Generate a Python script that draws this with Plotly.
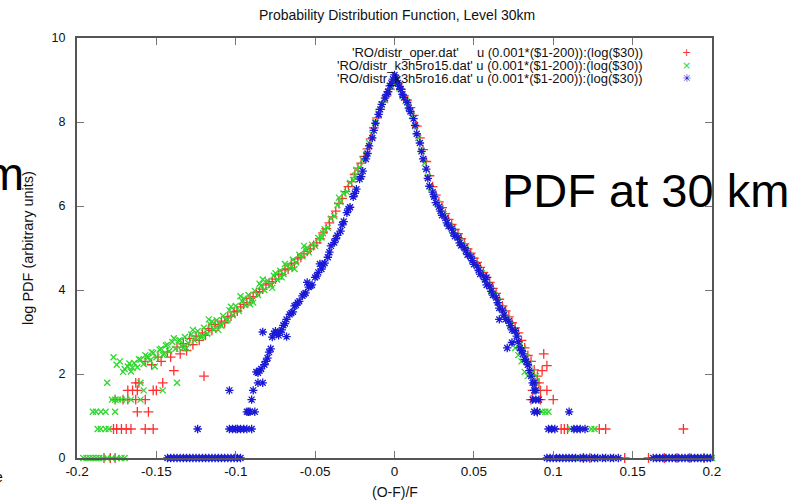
import plotly.graph_objects as go

# ---------------- data (x in units of 0.001 of (O-F)/F, y = log PDF) ----------------
RED_BAND_L_X = [-1, -3, -5, -7, -9, -11, -13, -15, -17, -19,
                -21, -23, -25, -27, -29, -31, -33, -35, -37, -39,
                -41, -43, -45, -47, -49, -51, -53, -55, -57, -59,
                -61, -63, -65, -67, -69, -71, -73, -75, -77, -79,
                -81, -83, -85, -87, -89, -91, -93, -95, -97, -99,
                -101, -103, -105, -107, -109, -111, -113, -115, -117, -119,
                -121, -123, -125, -127, -129, -131, -133, -135, -137, -141,
                -143, -147, -149, -153, -157]
RED_BAND_L_Y = [8.90, 8.78, 8.62, 8.48, 8.30, 8.10, 7.86, 7.60, 7.36, 7.18,
                7.02, 6.90, 6.75, 6.58, 6.46, 6.34, 6.18, 6.06, 5.88, 5.74,
                5.60, 5.46, 5.36, 5.22, 5.12, 5.06, 4.98, 4.92, 4.86, 4.78,
                4.74, 4.64, 4.62, 4.50, 4.48, 4.36, 4.38, 4.26, 4.20, 4.16,
                4.12, 4.02, 3.96, 3.94, 3.84, 3.80, 3.70, 3.66, 3.60, 3.50,
                3.48, 3.38, 3.36, 3.22, 3.26, 3.14, 3.18, 3.04, 3.08, 2.92,
                2.98, 2.80, 2.90, 2.70, 2.84, 2.56, 2.72, 2.48, 2.64, 2.40,
                2.52, 2.30, 2.40, 2.22, 2.30]
RED_BAND_R_X = [0, 2, 4, 6, 8, 10, 12, 14, 16, 18,
                20, 22, 24, 26, 28, 30, 32, 34, 36, 38,
                40, 42, 44, 46, 48, 50, 52, 54, 56, 58,
                60, 62, 64, 66, 68, 70, 72, 74, 76, 78,
                80, 82, 84, 86, 88, 90]
RED_BAND_R_Y = [8.98, 8.90, 8.78, 8.62, 8.52, 8.34, 8.16, 7.90, 7.62, 7.34,
                7.06, 6.72, 6.46, 6.26, 6.10, 5.96, 5.82, 5.68, 5.56, 5.44,
                5.34, 5.22, 5.10, 4.98, 4.88, 4.76, 4.66, 4.54, 4.42, 4.30,
                4.18, 4.04, 3.92, 3.78, 3.62, 3.50, 3.36, 3.22, 3.10, 2.98,
                2.80, 2.62, 2.44, 2.30, 2.10, 1.95]
RED_TAIL_X = [-183, -179, -176, -177, -175, -172, -169, -166, -157, -152,
              -176, -171, -168, -163, -157, -162, -155, -168, -165, -162,
              -152, -150, -146, -163, -161, -139, -120,
              86, 92, 87, 92, 89, 91, 90, 94, 96, 93, 96, 100,
              105, 107, 109, 129, 133, 182,
              119, 123, 145, 160, 170, 178, 186, 195]
RED_TAIL_Y = [0, 0, 0, 0.69, 0.69, 0.69, 0.69, 0.69, 0.69, 0.69,
              1.39, 1.39, 1.39, 1.39, 1.39, 1.10, 1.10, 1.61, 1.61, 1.61,
              1.61, 1.61, 1.79, 1.79, 1.79, 2.08, 1.95,
              1.39, 1.39, 1.61, 1.61, 1.79, 1.79, 1.10, 2.48, 2.20, 2.08, 1.61, 1.39,
              0.69, 0.69, 0.69, 0.69, 0.69, 0.69,
              0, 0, 0, 0, 0, 0, 0, 0]

GREEN_BAND_L_X = [0, -2, -4, -6, -8, -10, -12, -14, -16, -18,
                  -20, -22, -24, -26, -28, -30, -32, -34, -36, -38,
                  -40, -42, -44, -46, -48, -50, -52, -54, -56, -58,
                  -60, -62, -64, -66, -68, -70, -72, -74, -76, -78,
                  -80, -82, -84, -86, -88, -90, -92, -94, -96, -98,
                  -100, -102, -104, -106, -108, -110, -112, -114, -116, -118,
                  -120, -122, -124, -126, -128, -130, -132, -134, -136, -138,
                  -140, -142, -144, -146, -148, -150, -152, -154, -156, -158,
                  -160, -162, -164, -166, -168, -170, -173, -175]
GREEN_BAND_L_Y = [8.92, 8.83, 8.72, 8.52, 8.42, 8.20, 8.00, 7.70, 7.50, 7.22,
                  7.10, 6.92, 6.86, 6.62, 6.55, 6.33, 6.30, 6.10, 6.02, 5.76,
                  5.70, 5.48, 5.45, 5.25, 5.24, 5.05, 5.08, 4.90, 4.96, 4.80,
                  4.84, 4.66, 4.72, 4.52, 4.58, 4.38, 4.46, 4.25, 4.34, 4.12,
                  4.22, 4.00, 4.10, 3.88, 3.98, 3.76, 3.88, 3.64, 3.74, 3.50,
                  3.62, 3.40, 3.52, 3.28, 3.38, 3.18, 3.28, 3.06, 3.18, 2.96,
                  3.10, 2.88, 3.02, 2.80, 2.94, 2.74, 2.88, 2.66, 2.80, 2.60,
                  2.76, 2.54, 2.68, 2.46, 2.58, 2.40, 2.50, 2.32, 2.42, 2.24,
                  2.34, 2.16, 2.26, 2.06, 2.18, 2.12, 2.30, 2.22]
GREEN_EXTRA_X = [-25, -35, -45, -55, -65, -75, -85, -95, -105, -115,
                 -125, -135, -145, -155, -165, -131, -111, -91, -71, -151,
                 -57, -63, -69, -77, -83, -89, -97, -103, -109, -117,
                 -121, -127, -133, -139, -143, -147, -153, -157, -161, -167,
                 -171, -177]
GREEN_EXTRA_Y = [6.72, 6.20, 5.35, 5.00, 4.55, 4.40, 4.15, 3.80, 3.30, 3.25,
                 2.85, 2.80, 2.48, 2.40, 2.15, 2.62, 3.05, 3.66, 4.30, 2.18,
                 5.05, 4.50, 4.62, 4.05, 4.25, 3.70, 3.85, 3.60, 3.15, 3.30,
                 2.90, 3.05, 2.62, 2.85, 2.70, 2.60, 2.52, 2.45, 2.35, 2.25,
                 2.05, 2.40]
GREEN_BAND_R_X = [1, 3, 5, 7, 9, 11, 13, 15, 17, 19,
                  21, 23, 25, 27, 29, 31, 33, 35, 37, 39,
                  41, 43, 45, 47, 49, 51, 53, 55, 57, 59,
                  61, 63, 65, 67, 69, 71, 73, 75, 77, 79,
                  81, 83, 85, 87, 89]
GREEN_BAND_R_Y = [8.98, 8.80, 8.62, 8.50, 8.36, 8.15, 7.90, 7.62, 7.32, 7.02,
                  6.70, 6.44, 6.24, 6.06, 5.94, 5.80, 5.62, 5.52, 5.40, 5.30,
                  5.18, 5.08, 4.96, 4.84, 4.74, 4.62, 4.50, 4.40, 4.26, 4.14,
                  4.00, 3.88, 3.74, 3.58, 3.44, 3.32, 3.18, 3.02, 2.92, 2.70,
                  2.60, 2.40, 2.25, 2.05, 1.95]
GREEN_TAIL_X = [-181, -160, -137, -158, -146, -178, -176, -174, -172, -169,
                -166, -160, -190, -188, -185, -182, -176, -187, -185, -182,
                -180, -196, -194, -192, -190, -188, -186, -184, -181, -178,
                -175, -172, -170,
                76, 78, 80, 82, 84, 89, 90, 88, 89, 93,
                95, 97, 111, 124, 126, 110, 116, 118, 120, 188,
                190, 192, 194, 196, 198, 200]
GREEN_TAIL_Y = [1.79, 1.79, 1.79, 1.61, 1.61, 1.39, 1.39, 1.39, 1.39, 1.39,
                1.39, 1.39, 1.10, 1.10, 1.10, 1.10, 1.10, 0.69, 0.69, 0.69,
                0.69, 0, 0, 0, 0, 0, 0, 0, 0, 0,
                0, 0, 0,
                2.62, 2.45, 2.30, 2.05, 1.95, 1.79, 1.61, 1.61, 1.39, 1.10,
                1.10, 1.10, 0.69, 0.69, 0.69, 0, 0, 0, 0, 0,
                0, 0, 0, 0, 0, 0]

BLUE_BAND_R_X = [0, 1, 2, 3, 4, 5, 6, 8, 9, 10,
                 12, 13, 14, 16, 17, 18, 20, 21, 22, 24,
                 25, 26, 28, 29, 30, 32, 33, 34, 36, 37,
                 38, 40, 41, 42, 44, 45, 46, 48, 49, 50,
                 52, 53, 54, 56, 57, 58, 60, 61, 62, 64,
                 65, 66, 68, 69, 70, 72, 73, 74, 76, 77,
                 78, 79, 80, 81, 82, 83, 84, 85, 86]
BLUE_BAND_R_Y = [9.12, 9.05, 8.93, 8.85, 8.78, 8.66, 8.58, 8.47, 8.33, 8.25,
                 8.08, 7.92, 7.72, 7.50, 7.30, 7.12, 6.88, 6.66, 6.47, 6.33,
                 6.22, 6.08, 5.98, 5.88, 5.78, 5.71, 5.60, 5.52, 5.46, 5.36,
                 5.28, 5.25, 5.12, 5.06, 5.01, 4.93, 4.84, 4.79, 4.70, 4.61,
                 4.58, 4.47, 4.38, 4.33, 4.25, 4.12, 4.09, 3.97, 3.88, 3.82,
                 3.70, 3.57, 3.52, 3.40, 3.30, 3.26, 3.15, 3.05, 3.03, 2.90,
                 2.77, 2.62, 2.56, 2.48, 2.35, 2.30, 2.22, 2.08, 1.95]
BLUE_BAND_L_X = [-1, -2, -3, -4, -5, -6, -8, -9, -10, -12,
                 -13, -14, -16, -17, -18, -20, -21, -22, -24, -25,
                 -26, -28, -29, -30, -32, -33, -34, -36, -37, -38,
                 -40, -41, -42, -44, -45, -46, -48, -49, -50, -52,
                 -53, -54, -56, -57, -58, -60, -61, -62, -64, -65,
                 -66, -68, -69, -70, -71, -72, -73, -74, -75, -76,
                 -77, -78, -79, -80, -81, -82, -84, -85, -86, -87]
BLUE_BAND_L_Y = [9.02, 8.92, 8.86, 8.72, 8.66, 8.57, 8.42, 8.30, 8.18, 7.97,
                 7.80, 7.62, 7.43, 7.25, 7.12, 6.83, 6.70, 6.64, 6.40, 6.30,
                 6.22, 5.97, 5.93, 5.84, 5.63, 5.55, 5.40, 5.30, 5.22, 5.13,
                 5.05, 4.90, 4.78, 4.64, 4.60, 4.50, 4.42, 4.33, 4.30, 4.12,
                 4.10, 4.07, 3.93, 3.90, 3.86, 3.73, 3.70, 3.64, 3.48, 3.45,
                 3.42, 3.30, 3.20, 3.16, 3.05, 3.00, 2.92, 2.97, 3.02, 2.96,
                 2.88, 2.60, 2.52, 2.38, 2.30, 2.22, 2.12, 2.08, 2.03, 2.05]
BLUE_TAIL_X = [87, 88, 88, 89, 87, 89, 91, 88, 90, 110,
               97, 99, 101, 113, 115, 117, 120, 96, 98, 100,
               102, 104, 106, 108, 110, 112, 114, 117, 119, 121,
               124, 126, 128, 131, 133, 136, 138, 141, 163, 165,
               167, 169, 171, 173, 175, 177, 179, 181, 183, 185,
               187, 189, 191, 193, 195, 197, 199,
               -83, -86, -89, -104, -90, -93, -92, -91, -88, -124,
               -104, -102, -100, -99, -97, -95, -93, -90, -143, -141,
               -139, -137, -135, -133, -131, -129, -127, -125, -123, -121,
               -119, -117, -115, -113, -111, -109, -107, -105, -103, -101,
               -99, -97,
               71, 66, 58, 74, -83, -68, -63, -55, -47]
BLUE_TAIL_Y = [1.79, 1.79, 1.61, 1.61, 1.39, 1.39, 1.39, 1.10, 1.10, 1.10,
               0.69, 0.69, 0.69, 0.69, 0.69, 0.69, 0.69, 0, 0, 0,
               0, 0, 0, 0, 0, 0, 0, 0, 0, 0,
               0, 0, 0, 0, 0, 0, 0, 0, 0, 0,
               0, 0, 0, 0, 0, 0, 0, 0, 0, 0,
               0, 0, 0, 0, 0, 0, 0,
               1.79, 1.79, 1.61, 1.61, 1.39, 1.10, 1.10, 1.10, 1.10, 0.69,
               0.69, 0.69, 0.69, 0.69, 0.69, 0.69, 0.69, 0.69, 0, 0,
               0, 0, 0, 0, 0, 0, 0, 0, 0, 0,
               0, 0, 0, 0, 0, 0, 0, 0, 0, 0,
               0, 0,
               2.62, 3.30, 4.30, 2.75, 3.00, 2.89, 3.62, 4.18, 4.62]

NB = "\u00a0"
SERIES_NAMES = ["'RO/distr_oper.dat'" + NB * 5 + "u (0.001*($1-200)):(log($30))",
                "'RO/distr_k3h5ro15.dat'" + NB + "u (0.001*($1-200)):(log($30))",
                "'RO/distr_k3h5ro16.dat'" + NB + "u (0.001*($1-200)):(log($30))"]
LEGEND_KEYS = ["+", "×", "✳"]
X_TICKS = [-0.2, -0.15, -0.1, -0.05, 0, 0.05, 0.1, 0.15, 0.2]
X_TICK_TEXT = ["-0.2", "-0.15", "-0.1", "-0.05", "0", "0.05", "0.1", "0.15", "0.2"]
Y_TICKS = [0, 2, 4, 6, 8, 10]

# ---------------- assemble ----------------
series = [
    (RED_BAND_L_X + RED_BAND_R_X + RED_TAIL_X, RED_BAND_L_Y + RED_BAND_R_Y + RED_TAIL_Y),
    (GREEN_BAND_L_X + GREEN_EXTRA_X + GREEN_BAND_R_X + GREEN_TAIL_X,
     GREEN_BAND_L_Y + GREEN_EXTRA_Y + GREEN_BAND_R_Y + GREEN_TAIL_Y),
    (BLUE_BAND_L_X + BLUE_BAND_R_X + BLUE_TAIL_X, BLUE_BAND_L_Y + BLUE_BAND_R_Y + BLUE_TAIL_Y),
]
for sx, sy in series:
    assert len(sx) == len(sy)

COLORS = ["#ff3030", "#2ed82e", "#1a1ad6"]
SYMBOLS = ["cross-thin-open", "x-thin-open", "asterisk-open"]
SIZES = [7, 6, 7]

FONT = "Liberation Sans, Arial, sans-serif"
W, H = 810, 502
L, R, T, B = 77, 98, 38, 44
PW, PH = W - L - R, H - T - B


def px(xp):
    return (xp - L) / PW


def py(yp):
    return (H - B - yp) / PH


fig = go.Figure()
for (sx, sy), c, s, sz, nm in zip(series, COLORS, SYMBOLS, SIZES, SERIES_NAMES):
    fig.add_trace(go.Scatter(
        x=[v / 1000 for v in sx], y=sy, mode="markers", name=nm,
        cliponaxis=False,
        marker=dict(symbol=s, size=sz, color=c, line=dict(color=c, width=1.3)),
        showlegend=False,
    ))

axis_common = dict(
    showline=True, linecolor="#555555", linewidth=2, mirror="ticks",
    ticks="inside", ticklen=7, tickwidth=1, tickcolor="#777777",
    showgrid=False, zeroline=False,
)
fig.update_xaxes(range=[-0.2, 0.2], tickvals=X_TICKS, ticktext=X_TICK_TEXT,
                 ticklabelstandoff=0,
                 tickfont=dict(family=FONT, size=13.5, color="#111111"), **axis_common)
fig.update_yaxes(range=[0, 10], tickvals=Y_TICKS, ticktext=[str(v) for v in Y_TICKS],
                 ticklabelstandoff=7,
                 tickfont=dict(family=FONT, size=12.5, color="#111111"), **axis_common)

annotations = []
# legend (gnuplot style: text right-aligned, symbol to the right)
leg_y = [53, 65.5, 78]
for nm, yy, c, key in zip(SERIES_NAMES, leg_y, COLORS, LEGEND_KEYS):
    annotations.append(dict(x=px(645), y=py(yy), xref="paper", yref="paper", text=nm,
                            showarrow=False, xanchor="right", yanchor="middle",
                            font=dict(family=FONT, size=13, color="#111111")))
    annotations.append(dict(x=px(686), y=py(yy), xref="paper", yref="paper", text=key,
                            showarrow=False, xanchor="center", yanchor="middle",
                            font=dict(family="DejaVu Sans, sans-serif", size=11, color=c)))
# axis titles
annotations.append(dict(x=px(28), y=0.5, xref="paper", yref="paper",
                        text="log PDF (arbitrary units)", textangle=-90, showarrow=False,
                        xanchor="center", yanchor="middle",
                        font=dict(family=FONT, size=14.5, color="#111111")))
annotations.append(dict(x=0.5, y=py(492), xref="paper", yref="paper", text="(O-F)/F",
                        showarrow=False, xanchor="center", yanchor="middle",
                        font=dict(family=FONT, size=14, color="#111111")))
# slide overlay texts
annotations.append(dict(x=px(500), y=py(190), xref="paper", yref="paper", text="PDF at 30 km",
                        showarrow=False, xanchor="left", yanchor="middle",
                        font=dict(family=FONT, size=47, color="#000000")))
annotations.append(dict(x=px(26), y=py(174), xref="paper", yref="paper", text="m",
                        showarrow=False, xanchor="right", yanchor="middle",
                        font=dict(family=FONT, size=47, color="#000000")))
annotations.append(dict(x=px(5), y=py(477), xref="paper", yref="paper", text="e",
                        showarrow=False, xanchor="right", yanchor="middle",
                        font=dict(family=FONT, size=14, color="#000000")))

fig.update_layout(
    width=W, height=H,
    margin=dict(l=L, r=R, t=T, b=B, pad=0),
    paper_bgcolor="white", plot_bgcolor="white",
    title=dict(text="Probability Distribution Function, Level 30km",
               x=397 / W, xref="container", xanchor="center",
               y=1 - 15 / H, yref="container", yanchor="middle",
               font=dict(family=FONT, size=14, color="#111111")),
    annotations=annotations,
    showlegend=False,
)

fig.write_html("out.html")
